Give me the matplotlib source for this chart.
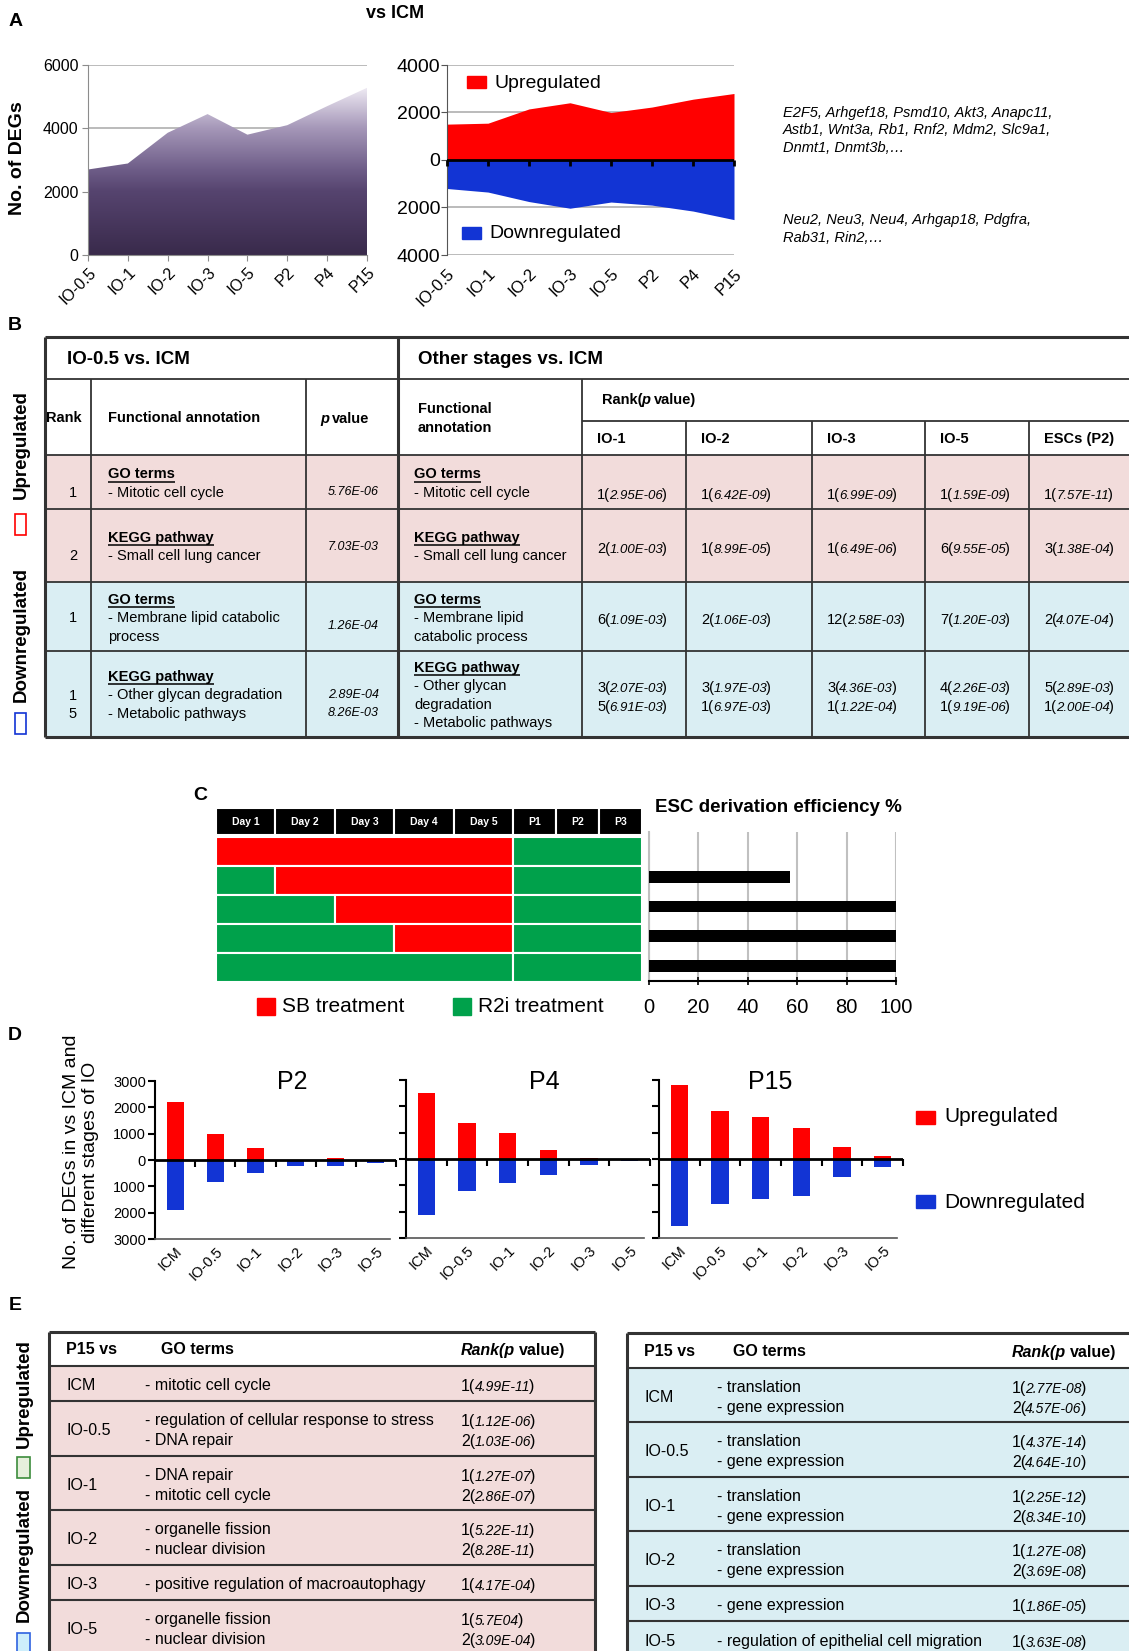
import matplotlib
matplotlib.use('Agg')
import matplotlib.pyplot as plt
import numpy as np
from matplotlib.patches import Rectangle
from matplotlib.colors import LinearSegmentedColormap

plt.rcParams['font.family'] = ['Liberation Sans', 'DejaVu Sans']

# ---------------- data ----------------
# A: DEGs vs ICM
a_stages = ['IO-0.5', 'IO-1', 'IO-2', 'IO-3', 'IO-5', 'P2', 'P4', 'P15']
a_total = [2700, 2890, 3860, 4450, 3800, 4100, 4700, 5280]
a_up = [1510, 1550, 2150, 2410, 2000, 2230, 2560, 2800]
a_down = [1200, 1350, 1750, 2030, 1770, 1900, 2150, 2510]
a_genes_up = ['E2F5, Arhgef18, Psmd10, Akt3, Anapc11,',
              'Astb1, Wnt3a, Rb1, Rnf2, Mdm2, Slc9a1,',
              'Dnmt1, Dnmt3b,\u2026']
a_genes_down = ['Neu2, Neu3, Neu4, Arhgap18, Pdgfra,', 'Rab31, Rin2,\u2026']

# B: functional annotation table
b_head = ['GO terms', 'KEGG pathway', 'GO terms', 'KEGG pathway']
b_rank = [['1'], ['2'], ['1'], ['1', '5']]
b_terms_io05 = [['- Mitotic cell cycle'], ['- Small cell lung cancer'],
                ['- Membrane lipid catabolic', 'process'],
                ['- Other glycan degradation', '- Metabolic pathways']]
b_pval_io05 = [['5.76E-06'], ['7.03E-03'], ['1.26E-04'], ['2.89E-04', '8.26E-03']]
b_terms_other = [['- Mitotic cell cycle'], ['- Small cell lung cancer'],
                 ['- Membrane lipid', 'catabolic process'],
                 ['- Other glycan', 'degradation', '- Metabolic pathways']]
b_stages = ['IO-1', 'IO-2', 'IO-3', 'IO-5', 'ESCs (P2)']
b_cells = [
    [[('1', '2.95E-06')], [('1', '6.42E-09')], [('1', '6.99E-09')], [('1', '1.59E-09')], [('1', '7.57E-11')]],
    [[('2', '1.00E-03')], [('1', '8.99E-05')], [('1', '6.49E-06')], [('6', '9.55E-05')], [('3', '1.38E-04')]],
    [[('6', '1.09E-03')], [('2', '1.06E-03')], [('12', '2.58E-03')], [('7', '1.20E-03')], [('2', '4.07E-04')]],
    [[('3', '2.07E-03'), ('5', '6.91E-03')], [('3', '1.97E-03'), ('1', '6.97E-03')],
     [('3', '4.36E-03'), ('1', '1.22E-04')], [('4', '2.26E-03'), ('1', '9.19E-06')],
     [('5', '2.89E-03'), ('1', '2.00E-04')]],
]

# C: treatment schedule (S = SB, R = R2i) and derivation efficiency
c_cols = ['Day 1', 'Day 2', 'Day 3', 'Day 4', 'Day 5', 'P1', 'P2', 'P3']
c_schedule = ['SSSSSRRR', 'RSSSSRRR', 'RRSSSRRR', 'RRRSSRRR', 'RRRRRRRR']
c_efficiency = [0, 57, 100, 100, 100]

# D: DEGs of ESC passages vs ICM / IO stages
d_titles = ['P2', 'P4', 'P15']
d_cats = ['ICM', 'IO-0.5', 'IO-1', 'IO-2', 'IO-3', 'IO-5']
up_p2 = [2200, 1000, 460, 0, 80, 0]
down_p2 = [1890, 820, 500, 230, 230, 100]
up_p4 = [2510, 1370, 980, 350, 40, 0]
down_p4 = [2110, 1200, 900, 590, 215, 90]
up_p15 = [2810, 1840, 1600, 1190, 470, 130]
down_p15 = [2530, 1720, 1530, 1400, 680, 320]

# E: GO terms P15 vs others
e_cmp = ['ICM', 'IO-0.5', 'IO-1', 'IO-2', 'IO-3', 'IO-5']
e_up_terms = [['- mitotic cell cycle'],
              ['- regulation of cellular response to stress', '- DNA repair'],
              ['- DNA repair', '- mitotic cell cycle'],
              ['- organelle fission', '- nuclear division'],
              ['- positive regulation of macroautophagy'],
              ['- organelle fission', '- nuclear division']]
e_up_ranks = [[('1', '4.99E-11')], [('1', '1.12E-06'), ('2', '1.03E-06')],
              [('1', '1.27E-07'), ('2', '2.86E-07')], [('1', '5.22E-11'), ('2', '8.28E-11')],
              [('1', '4.17E-04')], [('1', '5.7E04'), ('2', '3.09E-04')]]
e_down_terms = [['- translation', '- gene expression'],
                ['- translation', '- gene expression'],
                ['- translation', '- gene expression'],
                ['- translation', '- gene expression'],
                ['- gene expression'],
                ['- regulation of epithelial cell migration']]
e_down_ranks = [[('1', '2.77E-08'), ('2', '4.57E-06')], [('1', '4.37E-14'), ('2', '4.64E-10')],
                [('1', '2.25E-12'), ('2', '8.34E-10')], [('1', '1.27E-08'), ('2', '3.69E-08')],
                [('1', '1.86E-05')], [('1', '3.63E-08')]]

RED, BLUE, GREEN = '#ff0000', '#1234d4', '#00a14b'
PINK, LBLUE = '#f2dcdb', '#daeef3'

# ---------------- figure ----------------
W, H = 1129, 1651
fig = plt.figure(figsize=(W / 100, H / 100), dpi=100)
bg = fig.add_axes([0, 0, 1, 1], zorder=10)
bg.set_xlim(0, W)
bg.set_ylim(H, 0)
bg.axis('off')
R = fig.canvas.get_renderer()
PX = 100 / 72


def px_axes(x0, y0, x1, y1):
    return fig.add_axes([x0 / W, 1 - y1 / H, (x1 - x0) / W, (y1 - y0) / H])


def txt(x, y, s, size, **kw):
    kw.setdefault('va', 'center')
    return bg.text(x, y, s, fontsize=size, **kw)


def runs(x, y, parts):
    # pieces of text placed one after another on the same line
    base = y + 0.33 * parts[0][1] * PX
    for s, size, style, weight in parts:
        if s.startswith(' '):
            x += 0.28 * size * PX
            s = s.lstrip()
        t = bg.text(x, base, s, fontsize=size, fontstyle=style, fontweight=weight, va='baseline')
        x += t.get_window_extent(R).width - 0.8
    return x


def hline(y, x0, x1, lw=1.3, c='#333333'):
    bg.plot([x0, x1], [y, y], color=c, lw=lw, solid_capstyle='butt')


def vline(x, y0, y1, lw=1.3, c='#333333'):
    bg.plot([x, x], [y0, y1], color=c, lw=lw, solid_capstyle='butt')


def rank_p(x, y, r, p, s1=10.5, s2=9.5):
    runs(x, y, [(r + '(', s1, 'normal', 'normal'), (p, s2, 'italic', 'normal'),
                (')', s1, 'normal', 'normal')])


# ---------------- panel A ----------------
txt(16, 22, 'A', 14, weight='bold', ha='center')
txt(395, 14, 'vs ICM', 13, weight='bold', ha='center')
xa = np.arange(len(a_stages))

ax = px_axes(88, 65, 367, 255)
area = ax.fill_between(xa, 0, a_total, color='none', lw=0)
purple = LinearSegmentedColormap.from_list(
    'purple', [(0, '#392a4b'), (0.38, '#56446f'), (0.51, '#6e5d88'), (0.76, '#a698b9'), (1, '#efebf4')])
im = ax.imshow(np.linspace(0, 1, 256).reshape(-1, 1), cmap=purple, origin='lower', aspect='auto',
               extent=[0, len(a_stages) - 1, 0, max(a_total)], zorder=2)
im.set_clip_path(area.get_paths()[0], transform=ax.transData)
ax.set_xlim(0, len(a_stages) - 1)
ax.set_ylim(0, 6000)
ax.set_yticks([0, 2000, 4000, 6000])
ax.yaxis.grid(True, color='#b5b5b5', lw=1.3)
ax.set_axisbelow(True)
ax.spines[['top', 'right']].set_visible(False)
ax.spines[['left', 'bottom']].set_color('#8c8c8c')
ax.set_xticks(xa)
ax.set_xticklabels(a_stages, rotation=45, ha='right', rotation_mode='anchor')
ax.tick_params(colors='#8c8c8c', labelcolor='black', labelsize=11.5, length=4, pad=3)
ax.tick_params(axis='x', labelsize=11.5)
txt(18, 158, 'No. of DEGs', 14, weight='bold', rotation=90, ha='center')

ax = px_axes(447, 65, 734, 255)
ax.fill_between(xa, 0, a_up, color=RED, lw=0, zorder=2)
ax.fill_between(xa, 0, -np.array(a_down), color=BLUE, lw=0, zorder=2)
ax.set_xlim(0, len(a_stages) - 1)
ax.set_ylim(-4000, 4000)
yt = list(range(-4000, 4001, 2000))
ax.set_yticks(yt)
ax.set_yticklabels([str(abs(v)) for v in yt])
ax.yaxis.grid(True, color='#b5b5b5', lw=1.3)
ax.set_axisbelow(True)
ax.spines[['top', 'right', 'bottom']].set_visible(False)
ax.spines['left'].set_color('#555555')
ax.set_xticks(xa)
ax.set_xticklabels(a_stages, rotation=45, ha='right', rotation_mode='anchor')
ax.tick_params(axis='y', labelsize=14, length=4, color='#555555', pad=1)
ax.tick_params(axis='x', labelsize=12, length=0, pad=8)
ax.axhline(0, color='black', lw=2, zorder=4)
z = ax.secondary_xaxis(0.49999)
z.set_xticks(xa)
z.tick_params(length=4, width=2, labelbottom=False)
z.spines[['top', 'bottom']].set_visible(False)
z.set_zorder(5)

bg.add_patch(Rectangle((467, 76), 19, 12, color=RED))
txt(495, 83, 'Upregulated', 14)
bg.add_patch(Rectangle((462, 227), 19, 12, color=BLUE))
txt(489, 233, 'Downregulated', 14)

for i, s in enumerate(a_genes_up):
    txt(783, 113 + 17.5 * i, s, 10.5, style='italic')
for i, s in enumerate(a_genes_down):
    txt(783, 220 + 17.5 * i, s, 10.5, style='italic')

# ---------------- panel B ----------------
txt(15, 326, 'B', 14, weight='bold', ha='center')
bx = [45, 91, 306, 398, 582, 686, 812, 925, 1029]
bright = 1140
by_rows = [455, 509, 582, 651, 737]
for i in range(4):
    bg.add_patch(Rectangle((bx[0], by_rows[i]), bright - bx[0], by_rows[i + 1] - by_rows[i],
                           color=PINK if i < 2 else LBLUE, lw=0))
hline(379, 45, bright)
hline(421, 582, bright)
for y in by_rows[:-1]:
    hline(y, 45, bright)
for x in [91, 306, 582]:
    vline(x, 379, 737)
for x in bx[5:]:
    vline(x, 421, 737)
hline(337, 45, bright, 2.2)
hline(737, 45, bright, 2.2)
vline(45, 337, 737, 2.2)
vline(398, 337, 737, 2.2)

txt(67, 359, 'IO-0.5 vs. ICM', 13.5, weight='bold')
txt(418, 359, 'Other stages vs. ICM', 13.5, weight='bold')
txt(46, 418, 'Rank', 10.5, weight='bold')
txt(108, 418, 'Functional annotation', 10.5, weight='bold')
runs(320, 418, [('p', 10.5, 'italic', 'bold'), (' value', 10.5, 'normal', 'bold')])
txt(418, 409, 'Functional', 10.5, weight='bold')
txt(418, 428, 'annotation', 10.5, weight='bold')
runs(602, 399, [('Rank(', 10.5, 'normal', 'bold'), ('p', 10.5, 'italic', 'bold'),
                (' value)', 10.5, 'normal', 'bold')])
for j, s in enumerate(b_stages):
    txt(bx[4 + j] + 15, 439, s, 10.5, weight='bold')

b_p_y = [492, 547, 626, 695]
b_cell_y = [494, 548, 619, 687]
lh = 18.5
for i in range(4):
    yc = (by_rows[i] + by_rows[i + 1]) / 2 + 1.5
    line_y = {}
    for key, x_text, terms in (('io05', 108, b_terms_io05[i]), ('other', 414, b_terms_other[i])):
        lines = [b_head[i]] + terms
        y0 = yc - (len(lines) - 1) / 2 * lh
        line_y[key] = [y0 + k * lh for k in range(len(lines))]
        for k, s in enumerate(lines):
            t = txt(x_text, line_y[key][k], s, 10.5, weight='bold' if k == 0 else 'normal')
            if k == 0:
                w = t.get_window_extent(R).width
                hline(line_y[key][k] + 7.5, x_text, x_text + w, 1.1, 'black')
    for k, r in enumerate(b_rank[i]):
        txt(73, line_y['io05'][k + 1], r, 10.5, ha='center')
    for k, p in enumerate(b_pval_io05[i]):
        txt(379, b_p_y[i] + 17.5 * k, p, 9, style='italic', ha='right')
    for j, cell in enumerate(b_cells[i]):
        for k, (r, p) in enumerate(cell):
            rank_p(bx[4 + j] + 15, b_cell_y[i] + 19 * k, r, p)

txt(21, 445, 'Upregulated', 13.5, weight='bold', rotation=90, ha='center')
bg.add_patch(Rectangle((15, 514), 11, 21, fill=False, edgecolor=RED, lw=1.2))
txt(21, 635, 'Downregulated', 13.5, weight='bold', rotation=90, ha='center')
bg.add_patch(Rectangle((15, 713), 11, 21, fill=False, edgecolor=BLUE, lw=1.2))

# ---------------- panel C ----------------
txt(200, 795, 'C', 14, weight='bold', ha='center')
widths = np.array([1 if c.startswith('Day') else 0.72 for c in c_cols])
lefts = np.concatenate([[0], np.cumsum(widths)[:-1]])
n_days = sum(c.startswith('Day') for c in c_cols)

hdr = px_axes(216, 808, 642, 835)
hdr.barh(0, widths, left=lefts, height=1, color='black', edgecolor='white', lw=1.5)
for l, w, s in zip(lefts, widths, c_cols):
    hdr.text(l + w / 2, 0, s, color='white', fontsize=7.5, weight='bold', ha='center', va='center')
hdr.set_xlim(0, widths.sum())
hdr.set_ylim(-0.5, 0.5)
hdr.axis('off')

grid = px_axes(216, 837, 642, 982)
for r, row in enumerate(c_schedule):
    start = 0
    for j in range(1, len(row) + 1):
        if j == len(row) or row[j] != row[start] or j == n_days:
            grid.barh(r, widths[start:j].sum(), left=lefts[start], height=1,
                      color=RED if row[start] == 'S' else GREEN, edgecolor='white', lw=1.5)
            start = j
grid.set_xlim(0, widths.sum())
grid.set_ylim(len(c_schedule) - 0.5, -0.5)
grid.axis('off')

eff = px_axes(649, 832, 896, 981)
eff.barh(range(len(c_efficiency)), c_efficiency, height=0.4, color='black', zorder=3)
eff.set_xlim(0, 100)
eff.set_ylim(len(c_efficiency) - 0.5, -0.5)
eff.set_xticks(range(0, 101, 20))
eff.set_yticks([])
eff.xaxis.grid(True, color='#c0c0c0', lw=1.5)
eff.set_axisbelow(True)
eff.spines[['top', 'right']].set_visible(False)
eff.spines['left'].set_color('#c0c0c0')
eff.spines['left'].set_linewidth(1.5)
eff.spines['bottom'].set_linewidth(1.5)
eff.tick_params(axis='x', direction='inout', length=6, width=1.2, labelsize=14.5, pad=9)
txt(655, 808, 'ESC derivation efficiency %', 13.5, weight='bold')

bg.add_patch(Rectangle((257, 998), 18, 17, color=RED))
txt(282, 1007, 'SB treatment', 15)
bg.add_patch(Rectangle((453, 998), 18, 17, color=GREEN))
txt(478, 1007, 'R2i treatment', 15)

# ---------------- panel D ----------------
txt(15, 1035, 'D', 14, weight='bold', ha='center')
txt(81, 1152, 'No. of DEGs in vs ICM and\ndifferent stages of IO', 14, rotation=90,
    ha='center', linespacing=1.15)
d_up = [up_p2, up_p4, up_p15]
d_down = [down_p2, down_p4, down_p15]
d_boxes = [(155, 1081, 396, 1239), (406, 1080, 650, 1238), (659, 1080, 903, 1238)]
d_title_x = [292, 544, 770]
xc = np.arange(len(d_cats))
yt = list(range(-3000, 3001, 1000))
for k in range(len(d_titles)):
    ax = px_axes(*d_boxes[k])
    ax.bar(xc, d_up[k], width=0.42, color=RED, zorder=2)
    ax.bar(xc, -np.array(d_down[k]), width=0.42, color=BLUE, zorder=2)
    ax.set_xlim(-0.5, len(d_cats) - 0.5)
    ax.set_ylim(-3000, 3000)
    ax.set_yticks(yt)
    ax.set_yticklabels([str(abs(v)) for v in yt] if k == 0 else [])
    ax.tick_params(axis='y', length=5, width=1.5, pad=1.5, labelsize=10.5)
    ax.spines[['top', 'right']].set_visible(False)
    ax.spines['left'].set_linewidth(1.5)
    ax.spines['bottom'].set_color('#555555')
    ax.spines['bottom'].set_linewidth(1.2)
    ax.spines['bottom'].set_bounds(-0.5, len(d_cats) - 0.65)
    ax.set_xticks(xc)
    ax.set_xticklabels(d_cats, rotation=45, ha='right', rotation_mode='anchor')
    ax.tick_params(axis='x', length=0, pad=4, labelsize=10.5)
    ax.axhline(0, color='black', lw=2, zorder=4)
    z = ax.secondary_xaxis(0.49999)
    z.set_xticks(xc + 0.5)
    z.tick_params(length=5, width=1.5, labelbottom=False)
    z.spines[['top', 'bottom']].set_visible(False)
    z.set_zorder(5)
    txt(d_title_x[k], 1082, d_titles[k], 18, ha='center')

bg.add_patch(Rectangle((916, 1111), 19, 13, color=RED))
txt(944, 1117, 'Upregulated', 15)
bg.add_patch(Rectangle((916, 1195), 19, 13, color=BLUE))
txt(944, 1202, 'Downregulated', 15)

# ---------------- panel E ----------------
txt(15, 1306, 'E', 14, weight='bold', ha='center')


def go_table(x0, x1, top, head_h, terms, ranks, fill, go_x, rank_x, close_right):
    hs = [16.5 + 19 * len(t) for t in terms]
    edges = top + head_h + np.concatenate([[0], np.cumsum(hs)])
    bg.add_patch(Rectangle((x0, edges[0]), x1 - x0, edges[-1] - edges[0], color=fill, lw=0))
    for y in edges[:-1]:
        hline(y, x0, x1, 1.5)
    hline(top, x0, x1, 2.2)
    vline(x0, top, edges[-1], 2.2)
    if close_right:
        vline(x1, top, edges[-1], 2.2)
    yh = top + head_h / 2 + 1
    txt(x0 + 17, yh, 'P15 vs', 11.5, weight='bold')
    txt(go_x + 16, yh, 'GO terms', 11.5, weight='bold')
    runs(rank_x, yh, [('Rank(p', 11.5, 'italic', 'bold'), (' value)', 11.5, 'normal', 'bold')])
    for i in range(len(terms)):
        yc = (edges[i] + edges[i + 1]) / 2 + 2
        txt(x0 + 17, yc, e_cmp[i], 11.5)
        n = len(terms[i])
        for k in range(n):
            yy = yc + (k - (n - 1) / 2) * 20
            txt(go_x, yy, terms[i][k], 11.5)
            rank_p(rank_x, yy, ranks[i][k][0], ranks[i][k][1], 11.5, 10)


go_table(49, 595, 1332, 34, e_up_terms, e_up_ranks, PINK, 145, 461, True)
go_table(627, 1140, 1333, 35, e_down_terms, e_down_ranks, LBLUE, 717, 1012, False)

txt(24, 1394, 'Upregulated', 13.5, weight='bold', rotation=90, ha='center')
bg.add_patch(Rectangle((17, 1457), 13, 21, facecolor='#e6efdc', edgecolor='#3c8c3c', lw=1.2))
txt(24, 1555, 'Downregulated', 13.5, weight='bold', rotation=90, ha='center')
bg.add_patch(Rectangle((17, 1633), 13, 30, facecolor='#cdeefb', edgecolor='#2f62e0', lw=1.2))

fig.savefig('out.png', dpi=100)
